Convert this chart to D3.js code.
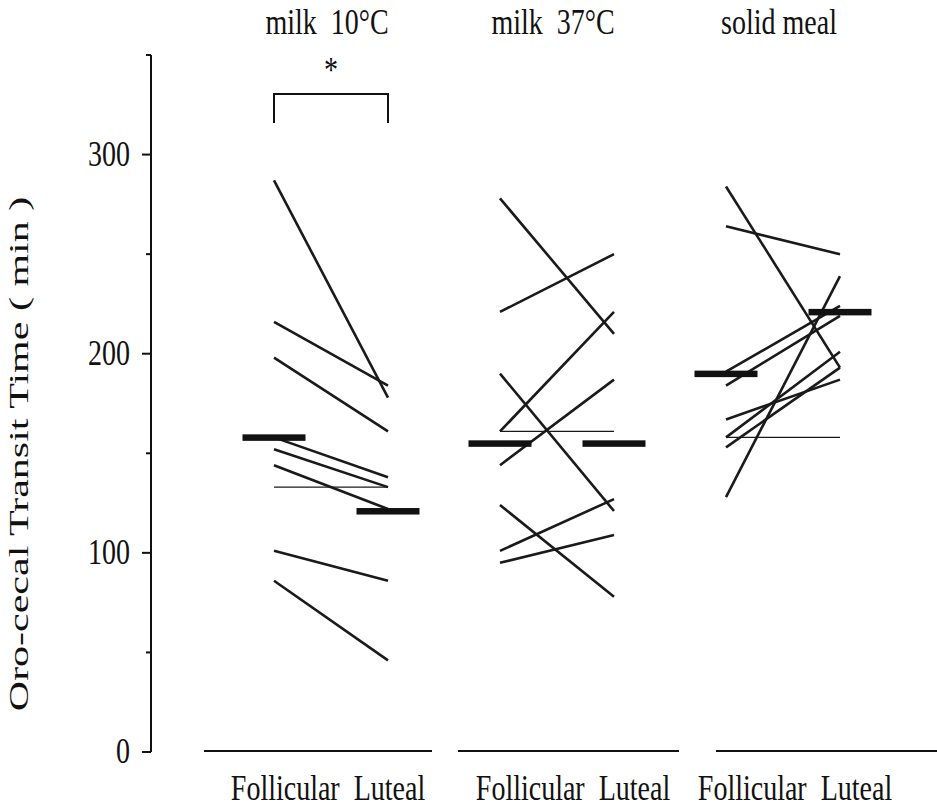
<!DOCTYPE html>
<html lang="en">
  <head>
    <meta charset="UTF-8"/>
    <title>Oro-cecal Transit Time</title>
    <script src="https://d3js.org/d3.v7.min.js"></script>
    <style>
      body { margin: 0; background: #fff; }
      text {
        font-family: 'Liberation Serif', 'DejaVu Serif', serif;
        font-size: 28px;
        fill: #111;
      }
      .axis path, .axis line {
        fill: none;
        stroke: #111;
        stroke-width: 2px;
      }
    </style>
  </head>
  <body>
    <script type="text/javascript">

      // groups and phases
      const groups = ["milk  10°C", "milk  37°C", "solid meal"]
      const phases = ["Follicular", "Luteal"]

      // individual subjects, follicular -> luteal (min)
      const follicular10 = [287, 216, 198, 158, 152, 144, 133, 101, 86]
      const luteal10     = [178, 184, 161, 138, 133, 122, 133, 86, 46]
      const follicular37 = [278, 221, 190, 161, 161, 144, 124, 101, 95]
      const luteal37     = [210, 250, 121, 221, 161, 187, 78, 127, 109]
      const follicularSolid = [284, 264, 191, 184, 167, 158, 158, 153, 128]
      const lutealSolid     = [193, 250, 224, 219, 187, 158, 201, 193, 239]

      // group means (thick bars)
      const meanFollicular = [158, 155, 190]
      const meanLuteal     = [121, 155, 221]

      const yTicks = [0, 100, 200, 300]
      const yMinorTicks = [50, 150, 250, 350]

      const follicular = [follicular10, follicular37, follicularSolid]
      const luteal = [luteal10, luteal37, lutealSolid]

      const outerWidth = 937,
            outerHeight = 808,
            stretch = 1.25,           // the scan is stretched vertically
            phaseOffset = 57,
            barHalf = 31.5

      const svg = d3.select("body").append("svg")
          .attr("width", outerWidth)
          .attr("height", outerHeight)

      const xGroup = d3.scalePoint()
          .domain(groups)
          .range([331, 783])

      const yScale = d3.scaleLinear()
          .domain([0, 350])
          .range([752, 55])

      const xPhase = (g, i) => xGroup(g) + (i === 0 ? -phaseOffset : phaseOffset)

      // text helper: tall, narrow lettering like the original
      const label = (sel, x, y, str, anchor) => sel.append("text")
          .attr("transform", `translate(${x},${y}) scale(1,${stretch})`)
          .attr("text-anchor", anchor || "middle")
          .style("white-space", "pre")
          .text(str)

      // y axis
      const yAxis = svg.append("g")
          .attr("class", "axis")
          .attr("transform", "translate(151,0)")
      yAxis.append("line")
          .attr("y1", yScale(350)).attr("y2", yScale(0))
      yAxis.selectAll(".major").data(yTicks).join("line")
          .attr("class", "major")
          .attr("x1", -9).attr("x2", 0)
          .attr("y1", d => yScale(d)).attr("y2", d => yScale(d))
      yAxis.selectAll(".minor").data(yMinorTicks).join("line")
          .attr("class", "minor")
          .attr("x1", -5).attr("x2", 0)
          .attr("y1", d => yScale(d)).attr("y2", d => yScale(d))
      yTicks.forEach(t => label(svg, 130, yScale(t) + 11, String(t), "end"))

      svg.append("text")
          .attr("transform", `translate(28,454) scale(1,1.5) rotate(-90)`)
          .attr("text-anchor", "middle")
          .style("white-space", "pre")
          .text("Oro-cecal Transit Time ( min )")

      // baseline segments under each group
      const baseSpans = [[204, 432], [458, 679], [716, 937]]
      svg.append("g").selectAll("line").data(baseSpans).join("line")
          .attr("x1", d => d[0]).attr("x2", d => d[1])
          .attr("y1", yScale(0) - 1).attr("y2", yScale(0) - 1)
          .attr("stroke", "#111").attr("stroke-width", 2.2)

      // titles and phase labels
      const labelShift = [-3, 16, 12]
      groups.forEach((g, i) => {
        label(svg, xGroup(g) - 4, 34, g)
        label(svg, xGroup(g) + labelShift[i], 800, phases[0] + "  " + phases[1])
      })

      // subject lines
      const pairs = []
      groups.forEach((g, gi) => {
        follicular[gi].forEach((f, k) => pairs.push({g, f, l: luteal[gi][k]}))
      })
      svg.append("g").selectAll("line").data(pairs).join("line")
          .attr("x1", d => xPhase(d.g, 0))
          .attr("x2", d => xPhase(d.g, 1))
          .attr("y1", d => yScale(d.f))
          .attr("y2", d => yScale(d.l))
          .attr("stroke", "#1a1a1a")
          .attr("stroke-width", d => d.f === d.l ? 1.4 : 2.6)

      // mean bars
      const means = []
      groups.forEach((g, gi) => {
        means.push({g, p: 0, v: meanFollicular[gi]})
        means.push({g, p: 1, v: meanLuteal[gi]})
      })
      svg.append("g").selectAll("rect").data(means).join("rect")
          .attr("x", d => xPhase(d.g, d.p) - barHalf)
          .attr("y", d => yScale(d.v) - 3)
          .attr("width", barHalf * 2)
          .attr("height", 6.5)
          .attr("fill", "#111")

      // significance bracket for milk 10°C
      const bx0 = xPhase(groups[0], 0), bx1 = xPhase(groups[0], 1)
      svg.append("path")
          .attr("d", `M${bx0},123 V94 H${bx1} V123`)
          .attr("fill", "none")
          .attr("stroke", "#111")
          .attr("stroke-width", 2)
      label(svg, (bx0 + bx1) / 2, 82, "*")

    </script>
  </body>
</html>
